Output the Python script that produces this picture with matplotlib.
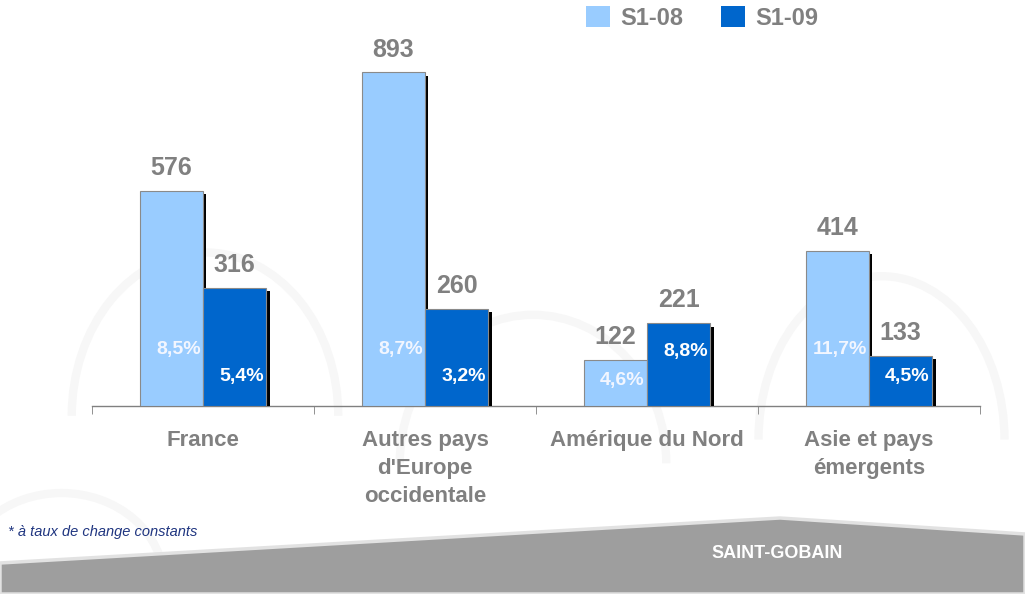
import matplotlib.pyplot as plt
import matplotlib.patheffects as pe
from matplotlib.patches import Patch, Polygon, Arc
import numpy as np

plt.rcParams['font.family'] = ['Liberation Sans', 'DejaVu Sans']

categories = ["France", "Autres pays\nd'Europe\noccidentale", "Amérique du Nord", "Asie et pays\némergents"]
s1_08 = [576, 893, 122, 414]
s1_09 = [316, 260, 221, 133]
pct_08 = ["8,5%", "8,7%", "4,6%", "11,7%"]
pct_09 = ["5,4%", "3,2%", "8,8%", "4,5%"]
# vertical position (data units) of the percentage labels inside bars
pct_y_08 = [150, 150, 67, 150]
pct_y_09 = [78, 78, 147, 78]

light = "#99CCFF"
dark = "#0066CC"
grey_txt = "#808080"

fig = plt.figure(figsize=(10.25, 5.94), dpi=100)
fig.patch.set_facecolor("white")

# very faint arch watermark in background
for cx, cy, w, h in [(0.20, 0.30, 0.26, 0.55), (0.52, 0.22, 0.26, 0.50),
                     (0.86, 0.26, 0.24, 0.55), (0.06, 0.02, 0.20, 0.30)]:
  fig.patches.append(Arc((cx, cy), w, h, theta1=0, theta2=180,
                         transform=fig.transFigure, color="#f7f7f7",
                         lw=6, zorder=-5))

# grey footer band
band = Polygon([(0, 1 - 563 / 594), (780 / 1025, 1 - 518 / 594), (1, 1 - 534 / 594),
                (1, 0), (0, 0)], closed=True, transform=fig.transFigure,
               facecolor="#9e9e9e", edgecolor="#e2e2e2", lw=2.5, zorder=-4)
fig.patches.append(band)

ax = fig.add_axes([92 / 1025, 1 - 406 / 594, 888 / 1025, 366 / 594])
ax.set_facecolor("none")

x = np.arange(len(categories))
w = 0.286
shadow = [pe.SimplePatchShadow(offset=(2.5, -2.2), shadow_rgbFace="black", alpha=1.0), pe.Normal()]

b1 = ax.bar(x - w / 2, s1_08, w, color=light, edgecolor="#8a8a8a", lw=0.8, zorder=3)
b2 = ax.bar(x + w / 2, s1_09, w, color=dark, edgecolor="#8a8a8a", lw=0.8, zorder=3)
for b in list(b1) + list(b2):
  b.set_path_effects(shadow)

for xi, v in zip(x - w / 2, s1_08):
  ax.annotate(str(v), (xi, v), xytext=(0, 11.5), textcoords="offset points",
              ha="center", va="baseline", fontsize=18, fontweight="bold", color=grey_txt)
for xi, v in zip(x + w / 2, s1_09):
  ax.annotate(str(v), (xi, v), xytext=(0, 11.5), textcoords="offset points",
              ha="center", va="baseline", fontsize=18, fontweight="bold", color=grey_txt)

for xi, t, yy in zip(x - w / 2, pct_08, pct_y_08):
  ax.text(xi + w / 2 - 0.01, yy, t, ha="right", va="center", fontsize=14,
          fontweight="bold", color="#f2f6ff", zorder=5)
for xi, t, yy in zip(x + w / 2, pct_09, pct_y_09):
  ax.text(xi + w / 2 - 0.013, yy, t, ha="right", va="center", fontsize=14,
          fontweight="bold", color="white", zorder=5)

ax.set_xlim(-0.5, len(categories) - 0.5)
ax.set_ylim(0, 980)
for s in ["top", "right", "left"]:
  ax.spines[s].set_visible(False)
ax.spines["bottom"].set_color("#808080")
ax.spines["bottom"].set_linewidth(1)
ax.set_yticks([])
ax.set_xticks(x)
ax.set_xticklabels(categories, fontsize=16, fontweight="bold", color=grey_txt, linespacing=1.45)
ax.tick_params(axis="x", which="major", length=0, pad=17)
ax.set_xticks(np.arange(-0.5, len(categories)), minor=True)
ax.tick_params(axis="x", which="minor", length=6, color="#808080", direction="out")

handles = [Patch(facecolor=light, edgecolor="none", label="S1-08"),
           Patch(facecolor=dark, edgecolor="none", label="S1-09")]
leg = fig.legend(handles=handles, loc="upper left", bbox_to_anchor=(586 / 1025, 1 - 6 / 594),
                 ncol=2, frameon=False, handlelength=1.0, handleheight=1.0,
                 handletextpad=0.45, columnspacing=1.6, borderpad=0, borderaxespad=0,
                 prop={"size": 17, "weight": "bold"})
for t in leg.get_texts():
  t.set_color(grey_txt)

fig.text(8 / 1025, 1 - 532 / 594, "* à taux de change constants", fontsize=10.5,
         style="italic", color="#1f3580", ha="left", va="center", zorder=4)
fig.text(777 / 1025, 1 - 553 / 594, "SAINT-GOBAIN", fontsize=13, fontweight="bold",
         family=["Liberation Sans Narrow", "Liberation Sans"], color="white",
         ha="center", va="center", zorder=4)

fig.savefig("out.png", dpi=100)
